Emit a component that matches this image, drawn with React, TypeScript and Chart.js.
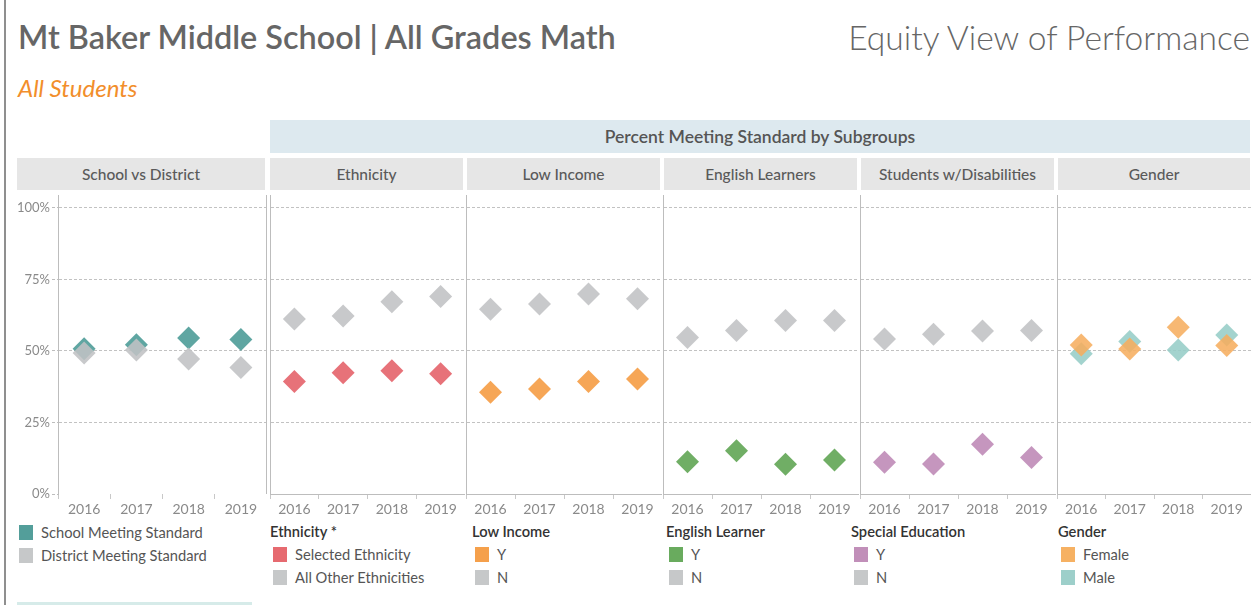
import React, { useEffect, useRef } from "react";
import { Chart, registerables } from "chart.js";

Chart.register(...registerables);

const YEARS = ["2016", "2017", "2018", "2019"];
const Y_TICKS = [0, 25, 50, 75, 100];

const SCHOOL = [50.8, 52.2, 54.5, 54.0];
const DISTRICT = [49.3, 50.3, 47.2, 44.2];
const ETH_SELECTED = [39.3, 42.4, 43.1, 42.0];
const ETH_OTHER = [61.2, 62.2, 67.2, 69.0];
const LOWINC_Y = [35.6, 36.7, 39.3, 40.2];
const LOWINC_N = [64.6, 66.4, 69.9, 68.2];
const EL_Y = [11.3, 15.1, 10.4, 11.9];
const EL_N = [54.7, 57.1, 60.6, 60.6];
const SPED_Y = [11.1, 10.5, 17.4, 12.8];
const SPED_N = [54.2, 55.8, 57.0, 57.1];
const FEMALE = [52.1, 50.7, 58.3, 51.9];
const MALE = [49.0, 53.3, 50.3, 55.6];

const C_TEAL = "rgba(78,156,152,0.9)";
const C_GREY = "rgba(192,194,196,0.88)";
const C_RED = "rgba(229,102,110,0.92)";
const C_ORANGE = "rgba(245,158,72,0.92)";
const C_GREEN = "rgba(104,170,93,0.95)";
const C_PURPLE = "rgba(192,141,184,0.92)";
const C_FEMALE = "rgba(246,174,96,0.88)";
const C_MALE = "rgba(150,205,199,0.88)";

type Series = { data: number[]; color: string };

const PANELS: { header: string; left: number; width: number; series: Series[] }[] = [
  { header: "School vs District", left: 17, width: 250, series: [ { data: DISTRICT, color: C_GREY }, { data: SCHOOL, color: C_TEAL } ] },
  { header: "Ethnicity", left: 269, width: 196, series: [ { data: ETH_OTHER, color: C_GREY }, { data: ETH_SELECTED, color: C_RED } ] },
  { header: "Low Income", left: 465, width: 197, series: [ { data: LOWINC_N, color: C_GREY }, { data: LOWINC_Y, color: C_ORANGE } ] },
  { header: "English Learners", left: 662, width: 197, series: [ { data: EL_N, color: C_GREY }, { data: EL_Y, color: C_GREEN } ] },
  { header: "Students w/Disabilities", left: 859, width: 197, series: [ { data: SPED_N, color: C_GREY }, { data: SPED_Y, color: C_PURPLE } ] },
  { header: "Gender", left: 1056, width: 195, series: [ { data: FEMALE, color: C_FEMALE }, { data: MALE, color: C_MALE } ] },
];

const HEADER_CELLS = [
  { text: "School vs District", left: 17, right: 265 },
  { text: "Ethnicity", left: 270, right: 463 },
  { text: "Low Income", left: 467, right: 660 },
  { text: "English Learners", left: 664, right: 857 },
  { text: "Students w/Disabilities", left: 861, right: 1054 },
  { text: "Gender", left: 1058, right: 1250 },
];

const LEGENDS = [
  { title: "", left: 19, items: [ { label: "School Meeting Standard", color: "#539e9a" }, { label: "District Meeting Standard", color: "#c6c8c9" } ] },
  { title: "Ethnicity *", left: 270, items: [ { label: "Selected Ethnicity", color: "#e66a70" }, { label: "All Other Ethnicities", color: "#c6c8c9" } ] },
  { title: "Low Income", left: 472, items: [ { label: "Y", color: "#f5a04b" }, { label: "N", color: "#c6c8c9" } ] },
  { title: "English Learner", left: 666, items: [ { label: "Y", color: "#69ab5e" }, { label: "N", color: "#c6c8c9" } ] },
  { title: "Special Education", left: 851, items: [ { label: "Y", color: "#c18fb9" }, { label: "N", color: "#c6c8c9" } ] },
  { title: "Gender", left: 1058, items: [ { label: "Female", color: "#f6b163" }, { label: "Male", color: "#9dcfca" } ] },
];

const PLOT_TOP = 195;
const PLOT_HEIGHT = 325;

const rightBorder = {
  id: "rightBorder",
  afterDraw(chart: any, _args: any, opts: any) {
    if (!opts || !opts.enabled) return;
    const { ctx, chartArea } = chart;
    ctx.save();
    ctx.strokeStyle = "#bdbdbd";
    ctx.lineWidth = 1;
    ctx.beginPath();
    ctx.moveTo(chartArea.right - 0.5, chartArea.top);
    ctx.lineTo(chartArea.right - 0.5, chartArea.bottom);
    ctx.stroke();
    ctx.restore();
  },
};

function Panel({ left, width, series, first }: { left: number; width: number; series: Series[]; first: boolean }) {
  const ref = useRef<HTMLCanvasElement>(null);
  useEffect(() => {
    if (!ref.current) return;
    Chart.defaults.font.family = "Lato, 'Open Sans', sans-serif";
    const chart = new Chart(ref.current, {
      type: "line",
      data: {
        labels: YEARS,
        datasets: series.map((s) => ({
          data: s.data,
          showLine: false,
          backgroundColor: s.color,
          borderColor: s.color,
          pointBackgroundColor: s.color,
          pointBorderColor: s.color,
          pointBorderWidth: 0,
          pointStyle: "rectRot",
          pointRadius: 11.5,
          pointHoverRadius: 11.5,
          clip: false,
        })),
      },
      options: {
        animation: false,
        responsive: false,
        maintainAspectRatio: false,
        events: [],
        layout: { padding: 0, autoPadding: false },
        plugins: {
          legend: { display: false },
          tooltip: { enabled: false },
          rightBorder: { enabled: first },
        } as any,
        scales: {
          x: {
            type: "category",
            offset: true,
            grid: {
              offset: true,
              drawOnChartArea: false,
              drawTicks: true,
              tickLength: 5,
              color: "#c8c8c8",
            },
            border: { display: !first, color: "#bdbdbd" },
            ticks: {
              color: "#8a8a8a",
              font: { size: 14 },
              padding: 2,
              maxRotation: 0,
              autoSkip: false,
            },
            afterFit: (s: any) => {
              s.height = PLOT_HEIGHT - 299;
              s.paddingLeft = 0;
              s.paddingRight = 0;
            },
          },
          y: {
            min: 0,
            max: 104.5,
            afterBuildTicks: (s: any) => {
              s.ticks = Y_TICKS.map((v) => ({ value: v }));
            },
            grid: {
              color: (ctx: any) => (ctx.tick && ctx.tick.value === 0 ? "rgba(0,0,0,0)" : "#c2c2c2"),
              tickColor: "#bdbdbd",
              drawTicks: first,
              tickLength: 6,
              tickBorderDash: [3, 2],
            },
            border: { display: true, color: "#bdbdbd", dash: [3, 2] },
            ticks: {
              display: first,
              color: "#8a8a8a",
              font: { size: 13 },
              padding: 2,
              callback: (v: any) => v + "%",
            },
            afterFit: (s: any) => {
              s.width = first ? 41 : 1;
              s.paddingTop = 0;
              s.paddingBottom = 0;
            },
          },
        },
      },
      plugins: [rightBorder],
    } as any);
    return () => chart.destroy();
  }, []);
  return (
    <canvas
      ref={ref}
      width={width}
      height={PLOT_HEIGHT}
      style={{ position: "absolute", left, top: PLOT_TOP, width, height: PLOT_HEIGHT }}
    />
  );
}

export default function App() {
  useEffect(() => {
    document.body.style.margin = "0";
  }, []);
  const font = "Lato, 'Open Sans', sans-serif";
  return (
    <div
      style={{
        position: "absolute",
        left: 0,
        top: 0,
        width: 1254,
        height: 605,
        overflow: "hidden",
        background: "#ffffff",
        fontFamily: font,
      }}
    >
      <div style={{ position: "absolute", left: 4, top: 0, width: 2, height: 605, background: "#8f8f8f" }} />
      <div
        style={{
          position: "absolute",
          left: 18,
          top: 18,
          fontSize: 32.4,
          lineHeight: "38px",
          fontWeight: 600,
          color: "#666666",
          whiteSpace: "nowrap",
        }}
      >
        Mt Baker Middle School | All Grades Math
      </div>
      <div
        style={{
          position: "absolute",
          right: 4,
          top: 18,
          fontSize: 33.6,
          lineHeight: "38px",
          fontWeight: 300,
          color: "#666666",
          whiteSpace: "nowrap",
        }}
      >
        Equity View of Performance
      </div>
      <div
        style={{
          position: "absolute",
          left: 18,
          top: 75,
          fontSize: 24,
          lineHeight: "26px",
          fontStyle: "italic",
          color: "#f28e2b",
          whiteSpace: "nowrap",
        }}
      >
        All Students
      </div>
      <div
        style={{
          position: "absolute",
          left: 270,
          top: 120,
          width: 980,
          height: 33,
          background: "#dde9ef",
          color: "#555555",
          fontSize: 17.5,
          fontWeight: 600,
          display: "flex",
          alignItems: "center",
          justifyContent: "center",
        }}
      >
        Percent Meeting Standard by Subgroups
      </div>
      {HEADER_CELLS.map((h) => (
        <div
          key={h.text}
          style={{
            position: "absolute",
            left: h.left,
            top: 158,
            width: h.right - h.left,
            height: 32,
            background: "#e6e6e6",
            color: "#5a5a5a",
            fontSize: 15.5,
            fontWeight: 500,
            display: "flex",
            alignItems: "center",
            justifyContent: "center",
            whiteSpace: "nowrap",
          }}
        >
          {h.text}
        </div>
      ))}
      {PANELS.map((p, i) => (
        <Panel key={p.header} left={p.left} width={p.width} series={p.series} first={i === 0} />
      ))}
      {LEGENDS.map((lg) => (
        <div key={lg.left}>
          {lg.title && (
            <div
              style={{
                position: "absolute",
                left: lg.left,
                top: 521,
                height: 20,
                lineHeight: "20px",
                fontSize: 14.7,
                fontWeight: 600,
                color: "#333333",
                whiteSpace: "nowrap",
              }}
            >
              {lg.title}
            </div>
          )}
          {lg.items.map((it, j) => {
            const cy = (lg.title ? 554 : 532) + j * 23;
            const sx = lg.title ? lg.left + 3 : lg.left;
            return (
              <React.Fragment key={it.label + j}>
                <div
                  style={{
                    position: "absolute",
                    left: sx,
                    top: cy - 7,
                    width: 14,
                    height: 15,
                    background: it.color,
                  }}
                />
                <div
                  style={{
                    position: "absolute",
                    left: sx + 22,
                    top: cy - 10,
                    height: 20,
                    lineHeight: "20px",
                    fontSize: 14.7,
                    color: "#555555",
                    whiteSpace: "nowrap",
                  }}
                >
                  {it.label}
                </div>
              </React.Fragment>
            );
          })}
        </div>
      ))}
      <div style={{ position: "absolute", left: 17, top: 602, width: 235, height: 3, background: "#d6ebe9" }} />
    </div>
  );
}
